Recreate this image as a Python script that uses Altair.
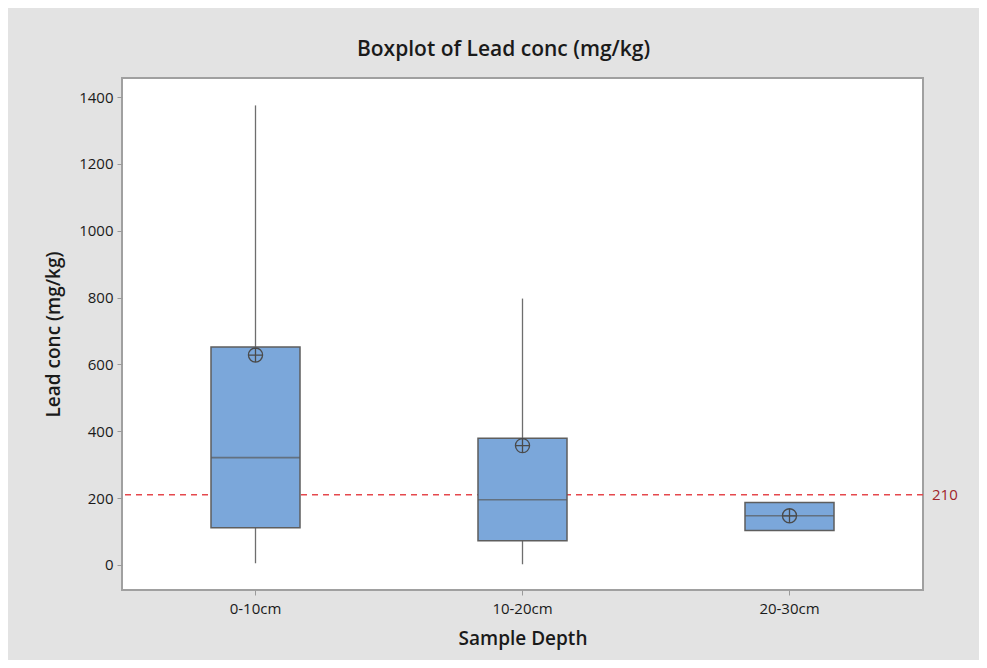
import altair as alt
import pandas as pd

depths = ["0-10cm", "10-20cm", "20-30cm"]
whisker_low = [5, 2, 103]
q1 = [111, 72, 103]
median = [321, 195, 147]
q3 = [652, 379, 187]
whisker_high = [1375, 797, 187]
mean = [628, 357, 147]
ref_value = [210]

df = pd.DataFrame({
    "depth": depths, "low": whisker_low, "q1": q1, "median": median,
    "q3": q3, "high": whisker_high, "mean": mean,
})
ref = pd.DataFrame({"v": ref_value, "label": [str(v) for v in ref_value]})

W, H = 801, 512
FONT = "Open Sans"
TXT = "#1a1a1a"

x = alt.X("depth:N", sort=depths, title="Sample Depth",
          scale=alt.Scale(paddingInner=0, paddingOuter=0),
          axis=alt.Axis(labelAngle=0, labelFontSize=15, titleFontSize=19,
                        titleFontWeight=600, titlePadding=13,
                        labelPadding=6, tickColor="#9a9a9a", tickSize=5,
                        domain=False, labelColor=TXT, titleColor=TXT,
                        labelFontWeight=500))
yscale = alt.Scale(domain=[-75, 1457], nice=False, zero=False)
yaxis = alt.Axis(values=[0, 200, 400, 600, 800, 1000, 1200, 1400], format="d",
                 labelFontSize=15, titleFontSize=19, titleFontWeight=600,
                 titlePadding=15, tickColor="#9a9a9a", tickSize=5, domain=False,
                 grid=False, labelColor=TXT, titleColor=TXT, labelPadding=4,
                 labelFontWeight=500)

base = alt.Chart(df)

wlow = base.mark_rule(color="#6e6e6e", strokeWidth=1.3).encode(
    x=x, y=alt.Y("low:Q", scale=yscale, axis=yaxis, title="Lead conc (mg/kg)"),
    y2="q1:Q")
whigh = base.mark_rule(color="#6e6e6e", strokeWidth=1.3).encode(
    x=x, y="q3:Q", y2="high:Q")
box = base.mark_bar(size=89, color="#7BA7DA", stroke="#5e5e5e",
                    strokeWidth=1.5).encode(x=x, y="q1:Q", y2="q3:Q")
med = base.mark_tick(size=89, thickness=1.6, color="#5a5a5a").encode(
    x=x, y="median:Q")
circ_cross = "M -1 0 A 1 1 0 1 1 1 0 A 1 1 0 1 1 -1 0 Z M -1 0 L 1 0 M 0 -1 L 0 1"
meanpt = base.mark_point(shape=circ_cross, size=200, filled=False,
                         color="#4a4a4a", strokeWidth=1.3, opacity=1).encode(
    x=x, y="mean:Q")

refline = alt.Chart(ref).mark_rule(color="#E5484D", strokeDash=[6, 5],
                                   strokeWidth=1.5).encode(y="v:Q")
reftext = alt.Chart(ref).mark_text(align="left", baseline="middle",
                                   color="#A0252A", fontSize=15, font=FONT,
                                   fontWeight=500, clip=False).encode(
    y="v:Q", x=alt.value(W + 9), text="label:N")

chart = alt.layer(refline, wlow, whigh, box, med, meanpt, reftext).properties(
    width=W, height=H,
    title=alt.TitleParams("Boxplot of Lead conc (mg/kg)", fontSize=21,
                          fontWeight=600, font=FONT, color=TXT,
                          offset=18, dx=-19),
    background="#E3E3E3",
    view=alt.ViewBackground(fill="white", stroke="#A0A0A0", strokeWidth=2),
    padding={"left": 114, "top": 70, "right": 56, "bottom": 70},
    autosize=alt.AutoSizeParams(type="none"),
).configure(font=FONT).configure_axis(labelFont=FONT, titleFont=FONT)

chart.save("out.html", embed_options={"renderer": "svg", "actions": False})
